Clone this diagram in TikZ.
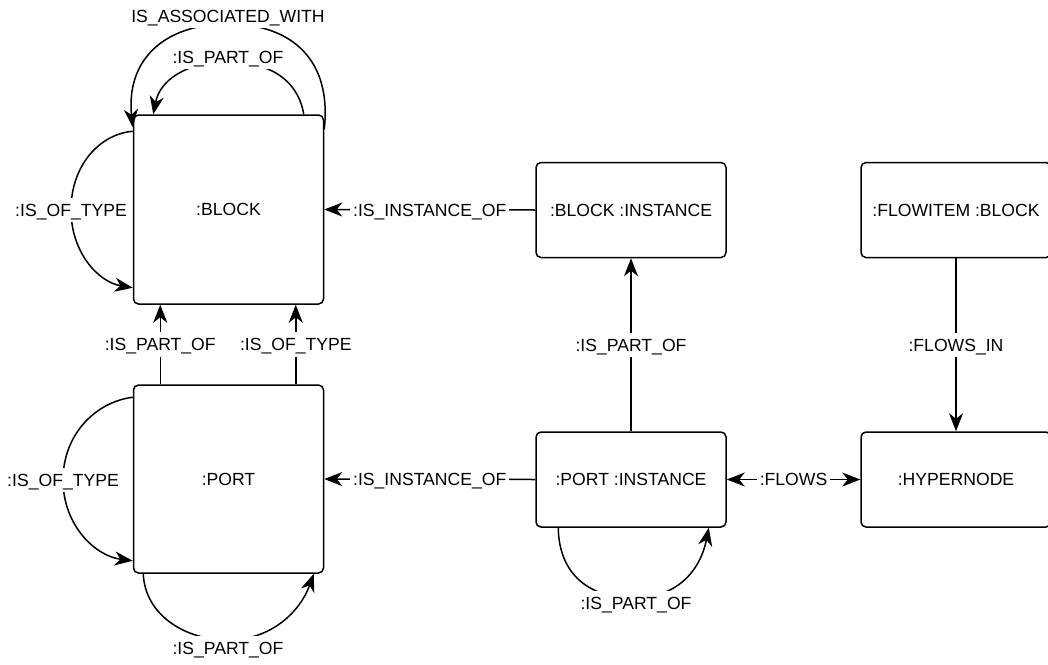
\documentclass[tikz,border=0pt]{standalone}
\usepackage{fontspec}
\setmainfont{Liberation Sans}
\usetikzlibrary{arrows.meta,calc}
\begin{document}
\begin{tikzpicture}[x=1pt,y=-1pt,
  font=\fontsize{17.6}{21}\selectfont,
  >={Stealth[length=18pt,width=14pt,inset=5.5pt]},
  box/.style={draw, line width=1.5pt, rounded corners=5pt, inner sep=0pt, minimum width=190pt},
  conn/.style={line width=1.5pt, ->},
  biconn/.style={line width=1.5pt, <->},
  lbl/.style={fill=white, inner sep=3pt, text height=15.5pt, text depth=2.9pt},
]
\useasboundingbox (0,0) rectangle (1048,664);
\fill[white] (0,0) rectangle (1048,664);
\begin{scope}
\clip (0,0) rectangle (1048,664);
% nodes
\node[box, minimum height=189pt] (B) at (228.5,209.5) {:BLOCK};
\node[box, minimum height=188pt] (P) at (228.5,479) {:PORT};
\node[box, minimum height=95pt] (BI) at (631,210) {:BLOCK :INSTANCE};
\node[box, minimum height=95pt] (PI) at (631,479.5) {:PORT :INSTANCE};
\node[box, minimum height=95pt] (F) at (956,210) {:FLOWITEM :BLOCK};
\node[box, minimum height=95pt] (H) at (956,479.5) {:HYPERNODE};

% straight connectors
\draw[conn] (BI.west) -- node[lbl]{:IS\_INSTANCE\_OF} (B.east);
\draw[conn] (PI.west) -- node[lbl]{:IS\_INSTANCE\_OF} (P.east);
\draw[conn] (PI.north) -- node[lbl]{:IS\_PART\_OF} (BI.south);
\draw[conn] (F.south) -- node[lbl]{:FLOWS\_IN} (H.north);
\draw[biconn] (PI.east) -- node[lbl]{:FLOWS} (H.west);
\draw[conn] ($(P.north west)+(27.5,0)$) -- node[lbl]{:IS\_PART\_OF} ($(B.south west)+(27.5,0)$);
\draw[conn] ($(P.north east)+(-28.5,0)$) -- node[lbl]{:IS\_OF\_TYPE} ($(B.south east)+(-28.5,0)$);

% BLOCK self loops
\draw[conn] ($(B.north west)+(0,17)$) .. controls (100,134) and (71,165) .. (71,210)
  node[lbl]{:IS\_OF\_TYPE}
  .. controls (71,252) and (98,282) .. ($(B.south west)+(0,-17)$);
\draw[conn] ($(B.north east)+(-20.5,0)$) .. controls (298,80) and (270,62) .. (228,62)
  .. controls (186,62) and (160,80) .. ($(B.north west)+(20.5,0)$);
\node[lbl] (lblBpart) at (228,57) {:IS\_PART\_OF};
\draw[conn] ($(B.north east)+(0,15)$) .. controls (332,60) and (292,24) .. (228,24)
  .. controls (164,24) and (126,60) .. ($(B.north west)+(0,13)$);
\node[lbl] (lblBassoc) at (228,16) {IS\_ASSOCIATED\_WITH};

% PORT self loops
\draw[conn] ($(P.north west)+(0,13)$) .. controls (95,402) and (63,435) .. (63,480)
  node[lbl]{:IS\_OF\_TYPE}
  .. controls (63,525) and (95,556) .. ($(P.south west)+(0,-13)$);
\draw[conn] ($(P.south west)+(10.5,0)$) .. controls (145,615) and (185,640) .. (228,640)
  .. controls (271,640) and (300,612) .. ($(P.south east)+(-10.5,0)$);
\node[lbl] (lblPpart) at (228,648) {:IS\_PART\_OF};

% PORT INSTANCE self loop
\draw[conn] ($(PI.south west)+(23,0)$) .. controls (559,575) and (590,598) .. (633,598)
  .. controls (676,598) and (700,572) .. ($(PI.south east)+(-18,0)$);
\node[lbl] (lblPIpart) at (636,603) {:IS\_PART\_OF};
\end{scope}
\end{tikzpicture}
\end{document}
